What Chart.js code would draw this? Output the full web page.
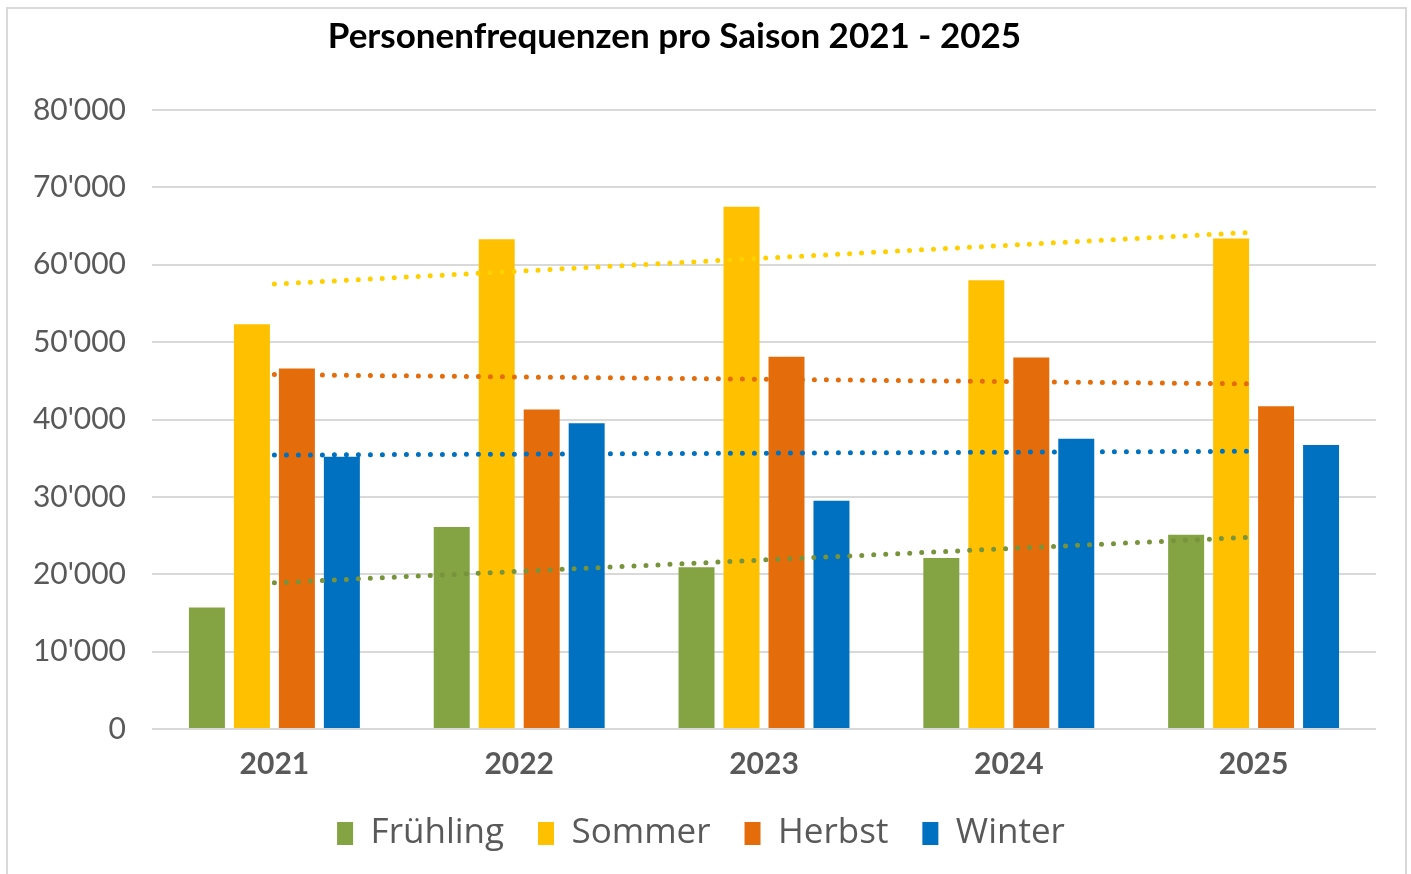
<!DOCTYPE html>
<html>
<head>
<meta charset="utf-8">
<script src="https://cdn.jsdelivr.net/npm/chart.js@4/dist/chart.umd.min.js"></script>
<style>
  body { margin: 0; background: #fff; }
  #wrap { position: relative; width: 1411px; height: 874px; }
  #frame { position: absolute; left: 6px; top: 7px; width: 1397px; height: 880px;
           border: 2px solid #d9d9d9; pointer-events: none; }
</style>
</head>
<body>
<div id="wrap">
  <canvas id="chart" width="1411" height="874"></canvas>
  <div id="frame"></div>
</div>
<script>
// data
const years = ['2021', '2022', '2023', '2024', '2025'];
const fruehling = [15700, 26100, 20900, 22100, 25100];
const sommer    = [52300, 63300, 67500, 58000, 63400];
const herbst    = [46600, 41300, 48100, 48000, 41700];
const winter    = [35200, 39500, 29500, 37500, 36700];

// dotted trend lines: start (2021) and end (2025) values as drawn
const trendFruehling = [18900, null, null, null, 24800];
const trendSommer    = [57500, null, null, null, 64200];
const trendHerbst    = [45800, null, null, null, 44600];
const trendWinter    = [35400, null, null, null, 35900];

const yTicks = [0, 10000, 20000, 30000, 40000, 50000, 60000, 70000, 80000];

const title = 'Personenfrequenzen pro Saison 2021 - 2025';
const grey = '#595959';

function bar(label, data, color) {
  return { type: 'bar', label, data, backgroundColor: color, order: 1 };
}
function trend(label, data, color) {
  return {
    type: 'line', label, data, isTrend: true, order: 0,
    borderColor: color, borderWidth: 5, borderDash: [0, 12],
    borderCapStyle: 'round', pointRadius: 0, spanGaps: true, fill: false
  };
}

// title sits a bit left of centre in the original
const titlePlugin = {
  id: 'offsetTitle',
  afterDraw(chart) {
    const c = chart.ctx;
    c.save();
    c.font = 'bold 35px Lato';
    c.fillStyle = '#000';
    c.textAlign = 'center';
    c.textBaseline = 'middle';
    c.fillText(title, chart.width * 0.478, 37);
    c.restore();
  }
};

new Chart(document.getElementById('chart'), {
  data: {
    labels: years,
    datasets: [
      bar('Frühling', fruehling, '#84a343'),
      bar('Sommer', sommer, '#ffc000'),
      bar('Herbst', herbst, '#e46c0a'),
      bar('Winter', winter, '#0070c0'),
      trend('Trend Frühling', trendFruehling, '#77933c'),
      trend('Trend Sommer', trendSommer, '#ffd000'),
      trend('Trend Herbst', trendHerbst, '#e46c0a'),
      trend('Trend Winter', trendWinter, '#0070c0')
    ]
  },
  options: {
    responsive: false,
    animation: false,
    layout: { padding: { left: 26, right: 35, top: 110, bottom: 13 } },
    datasets: { bar: { categoryPercentage: 0.735, barPercentage: 0.8 } },
    scales: {
      x: {
        grid: { display: false, drawTicks: false },
        border: { display: false },
        afterFit(axis) { axis.height = 53; },
        ticks: { color: grey, padding: 20, font: { family: 'Lato', size: 30, weight: 'bold', lineHeight: 1 } }
      },
      y: {
        min: 0, max: 80000,
        afterBuildTicks(axis) { axis.ticks = yTicks.map(v => ({ value: v })); },
        afterFit(axis) { axis.width = 126; },
        grid: { color: '#d9d9d9', lineWidth: 2, drawTicks: false },
        border: { display: false },
        ticks: {
          color: grey, padding: 26,
          font: { family: 'Lato', size: 30 },
          callback: v => String(v).replace(/\B(?=(\d{3})+(?!\d))/g, "'")
        }
      }
    },
    plugins: {
      title: { display: false },
      tooltip: { enabled: false },
      legend: {
        position: 'bottom',
        labels: {
          color: grey, boxWidth: 16, boxHeight: 23, padding: 34,
          font: { family: 'Open Sans', size: 35 },
          filter: (item, data) => !data.datasets[item.datasetIndex].isTrend
        }
      }
    }
  },
  plugins: [titlePlugin]
});
</script>
</body>
</html>
